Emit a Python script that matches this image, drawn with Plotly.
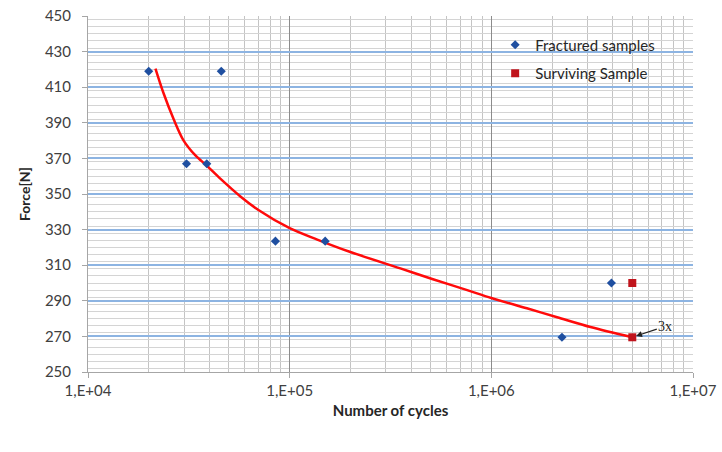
import plotly.graph_objects as go

# Fatigue test results: applied force vs. number of cycles
fractured_cycles = [2.0e4, 3.08e4, 3.88e4, 4.58e4, 8.5e4, 1.5e5, 2.24e6, 3.94e6]
fractured_force = [419, 367, 367, 419, 323.5, 323.5, 269.5, 300]

surviving_cycles = [5.0e6, 5.0e6]
surviving_force = [300, 269.5]

# S-N trend curve
trend_cycles = [2.16e4, 2.37e4, 2.66e4, 2.98e4, 3.4e4, 3.89e4, 4.53e4, 5.7e4, 7.0e4,
                1.0e5, 1.37e5, 2.0e5, 3.54e5, 5.18e5, 7.59e5, 1.0e6, 1.5e6, 2.12e6,
                3.1e6, 5.0e6]
trend_force = [420.5, 406.6, 392.0, 380.0, 371.8, 365.8, 358.6, 348.6, 341.0,
               330.8, 324.4, 317.4, 308.2, 302.0, 296.0, 291.6, 285.8, 280.8,
               275.3, 269.5]

x_tickvals = [1e4, 1e5, 1e6, 1e7]
x_ticktext = ["1,E+04", "1,E+05", "1,E+06", "1,E+07"]
y_tickvals = list(range(250, 451, 20))

FONT = "Lato, 'Open Sans', sans-serif"

fig = go.Figure()

fig.add_trace(go.Scatter(
    x=trend_cycles, y=trend_force, mode="lines",
    line=dict(color="#FF0A0A", width=2.5, shape="spline", smoothing=0.9),
    showlegend=False, hoverinfo="skip",
))

fig.add_trace(go.Scatter(
    x=fractured_cycles, y=fractured_force, mode="markers",
    name="Fractured samples", legendgroup="a",
    marker=dict(symbol="diamond", size=7, color="#1F4FA0"),
))

fig.add_trace(go.Scatter(
    x=surviving_cycles, y=surviving_force, mode="markers",
    name="Surviving Sample", legendgroup="b",
    marker=dict(symbol="square", size=8, color="#C0141C"),
))

fig.add_annotation(
    x=6.69897, y=269.5, xref="x", yref="y",
    text="3x", showarrow=True,
    ax=33, ay=-11, axref="pixel", ayref="pixel",
    arrowhead=2, arrowsize=1, arrowwidth=1.2, arrowcolor="#222222",
    standoff=4,
    font=dict(family="'Liberation Serif', serif", size=14, color="#222222"),
)

fig.update_layout(
    width=722, height=452,
    margin=dict(l=88, r=29, t=16, b=80),
    paper_bgcolor="white", plot_bgcolor="white",
    font=dict(family=FONT, color="#404040"),
    legend=dict(
        x=0.673, y=0.965, xanchor="left", yanchor="top",
        bgcolor="rgba(0,0,0,0)", font=dict(size=15, color="#262626"),
        tracegroupgap=6, itemsizing="trace",
    ),
)

fig.update_xaxes(
    type="log", range=[4, 7], automargin=False,
    tickvals=x_tickvals, ticktext=x_ticktext,
    tickfont=dict(size=15, color="#404040"),
    showgrid=True, gridcolor="#8C8C8C", gridwidth=1,
    minor=dict(dtick="D1", showgrid=True, gridcolor="#C4C4C4", gridwidth=1,
               ticks=""),
    showline=True, linecolor="#A6A6A6", linewidth=1,
    ticks="outside", ticklen=5, tickcolor="#A6A6A6",
    mirror=False, zeroline=False,
    title=dict(text="<b>Number of cycles</b>", font=dict(size=15, color="#262626"),
               standoff=7),
)

fig.update_yaxes(
    range=[250, 450], automargin=False,
    tickvals=y_tickvals,
    tickfont=dict(size=15, color="#404040"),
    showgrid=True, gridcolor="#8DB4E2", gridwidth=1.5,
    minor=dict(dtick=4, showgrid=True, gridcolor="#D4D4D4", gridwidth=1, ticks=""),
    showline=True, linecolor="#A6A6A6", linewidth=1,
    ticks="outside", ticklen=5, tickcolor="#A6A6A6",
    ticklabelstandoff=8,
    zeroline=False,
    title=dict(text="<b>Force[N]</b>", font=dict(size=14, color="#262626"),
               standoff=10),
)

fig.write_html("out.html")
